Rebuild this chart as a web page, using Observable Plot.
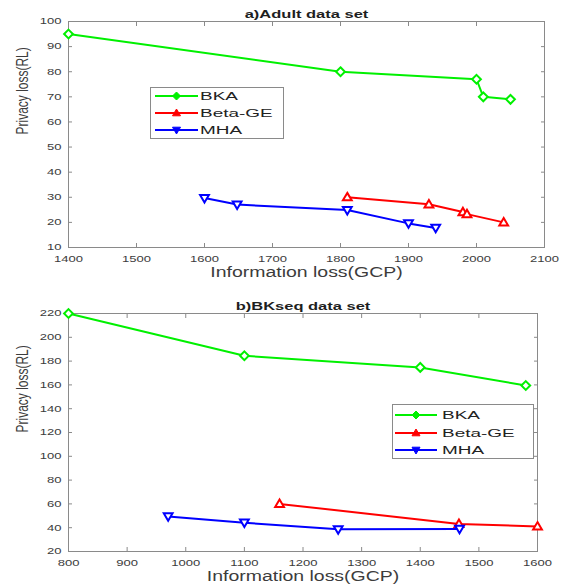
<!DOCTYPE html>
<html><head><meta charset="utf-8">
<script src="https://cdn.jsdelivr.net/npm/d3@7"></script>
<script src="https://cdn.jsdelivr.net/npm/@observablehq/plot@0.6"></script>
<style>
body{margin:0;background:#fff;}
#wrap{position:relative;width:561px;height:586px;overflow:hidden;font-family:"Liberation Sans",Arial,sans-serif;background:#fff;}
#wrap > svg{display:block;}
.legend{position:absolute;}
</style></head><body><div id="wrap"></div>
<script>
const seriesNames = ["BKA", "Beta-GE", "MHA"];
const seriesColors = ["#00f000", "#ff0000", "#0000ff"];
const xLabel = "Information loss(GCP)";
const yLabel = "Privacy loss(RL)";

const adultTitle = "a)Adult data set";
const adultXTicks = [1400, 1500, 1600, 1700, 1800, 1900, 2000, 2100];
const adultYTicks = [10, 20, 30, 40, 50, 60, 70, 80, 90, 100];
const adultBKA_x = [1400, 1800, 2000, 2010, 2050];
const adultBKA_y = [95, 80, 77, 70, 69];
const adultBeta_x = [1810, 1930, 1980, 1986, 2040];
const adultBeta_y = [30, 27.2, 24.1, 23.3, 20];
const adultMHA_x = [1600, 1648, 1810, 1900, 1940];
const adultMHA_y = [29.7, 27.1, 24.9, 19.6, 17.8];

const bkTitle = "b)BKseq data set";
const bkXTicks = [800, 900, 1000, 1100, 1200, 1300, 1400, 1500, 1600];
const bkYTicks = [20, 40, 60, 80, 100, 120, 140, 160, 180, 200, 220];
const bkBKA_x = [800, 1100, 1400, 1580];
const bkBKA_y = [220, 184.5, 174.7, 159.5];
const bkBeta_x = [1160, 1466, 1600];
const bkBeta_y = [60, 43.2, 41];
const bkMHA_x = [970, 1100, 1260, 1467];
const bkMHA_y = [49.5, 44.2, 38.6, 39];

const symDiamond = {draw(c, size) {const r = Math.sqrt(size / Math.PI); c.moveTo(0, -r); c.lineTo(r, 0); c.lineTo(0, r); c.lineTo(-r, 0); c.closePath();}};
const symUp = {draw(c, size) {const r = Math.sqrt(size / Math.PI); c.moveTo(0, -r); c.lineTo(r, r * 0.7); c.lineTo(-r, r * 0.7); c.closePath();}};
const symDown = {draw(c, size) {const r = Math.sqrt(size / Math.PI); c.moveTo(0, r); c.lineTo(r, -r * 0.7); c.lineTo(-r, -r * 0.7); c.closePath();}};
const symbols = [symDiamond, symUp, symDown];

const FONT = '"Liberation Sans", Arial, sans-serif';
const GRID = "#8a8a8a";
const TXT = "#3c3c3c";

function stretchText(svg, title) {
  svg.querySelectorAll("text").forEach(t => {
    const g = t.parentNode;
    const lab = (g && g.getAttribute && g.getAttribute("aria-label")) || "";
    const s = t.textContent;
    let sx = 1, sy = 1;
    if (lab.includes("tick label")) sx = 1.45;
    else if (s === title) sx = 1.65;
    else if (s === xLabel) sx = 1.39;
    else if (s === yLabel) sy = 1.33;
    else return;
    let tr = t.getAttribute("transform") || "";
    const xa = t.getAttribute("x");
    if (xa !== null && !isNaN(+xa)) { tr += ` translate(${xa},0)`; t.setAttribute("x", 0); }
    t.setAttribute("transform", `${tr} scale(${sx},${sy})`);
  });
}

function makeChart(cfg) {
  const sets = [cfg.bka, cfg.beta, cfg.mha].map((p, k) => p[0].map((x, i) => ({x, y: p[1][i], series: seriesNames[k]})));
  const tickAxis = {fontSize: 9, fill: TXT, label: null, tickFormat: d => String(d)};
  const marks = [
    Plot.frame({stroke: GRID}),
    Plot.axisX(cfg.xTicks, {anchor: "bottom", tickSize: 0, tickPadding: 8, ...tickAxis}),
    Plot.axisY(cfg.yTicks, {anchor: "left", tickSize: 0, tickPadding: 7, ...tickAxis}),
    Plot.axisX(cfg.xTicks, {anchor: "bottom", tickSize: -4, tickFormat: () => "", stroke: GRID, label: null}),
    Plot.axisX(cfg.xTicks, {anchor: "top", tickSize: -4, tickFormat: () => "", stroke: GRID, label: null}),
    Plot.axisY(cfg.yTicks, {anchor: "left", tickSize: -4, tickFormat: () => "", stroke: GRID, label: null}),
    Plot.axisY(cfg.yTicks, {anchor: "right", tickSize: -4, tickFormat: () => "", stroke: GRID, label: null}),
    Plot.text([cfg.title], {text: d => d, frameAnchor: "top", lineAnchor: "middle", dy: -7, fontSize: 10, fontWeight: "bold", fill: "#1e1e1e"}),
    Plot.text([xLabel], {text: d => d, frameAnchor: "bottom", lineAnchor: "middle", dy: 25, fontSize: 14, fill: TXT}),
    Plot.text([yLabel], {text: d => d, frameAnchor: "left", lineAnchor: "middle", dx: -46, rotate: -90, fontSize: 12, fill: TXT})
  ];
  sets.forEach((d, k) => {
    marks.push(Plot.line(d, {x: "x", y: "y", stroke: seriesColors[k], strokeWidth: 2}));
  });
  sets.forEach((d, k) => {
    marks.push(Plot.dot(d, {x: "x", y: "y", symbol: symbols[k], r: 4.4, stroke: seriesColors[k], fill: "white", strokeWidth: 2}));
  });
  const svg = Plot.plot({
    width: 561, height: cfg.height,
    marginLeft: cfg.ml, marginRight: cfg.mr, marginTop: cfg.mt, marginBottom: cfg.mb,
    style: {fontFamily: FONT, background: "transparent"},
    x: {domain: cfg.xDomain, label: null},
    y: {domain: cfg.yDomain, label: null},
    marks
  });
  stretchText(svg, cfg.title);
  return svg;
}

function makeLegend(parent, box) {
  const svg = d3.select(parent).append("svg").attr("class", "legend")
    .attr("width", box.w + 2).attr("height", box.h + 2)
    .style("left", (box.left - 1) + "px").style("top", (box.top - 1) + "px");
  svg.append("rect").attr("x", 1.5).attr("y", 1.5).attr("width", box.w - 1).attr("height", box.h - 1)
    .attr("fill", "white").attr("stroke", "#8a8a8a");
  seriesNames.forEach((name, k) => {
    const y = box.rows[k] + 1;
    svg.append("line").attr("x1", box.l0 + 1).attr("x2", box.l1 + 1).attr("y1", y).attr("y2", y)
      .attr("stroke", seriesColors[k]).attr("stroke-width", 2);
    svg.append("path").attr("d", d3.symbol(symbols[k], Math.PI * 16)())
      .attr("transform", `translate(${(box.l0 + box.l1) / 2 + 1},${y})`).attr("fill", seriesColors[k]).attr("stroke", seriesColors[k]);
    svg.append("text").text(name).attr("transform", `translate(${box.tx + 1},${y}) scale(1.65,1)`)
      .attr("dy", "0.36em").attr("font-size", 11.5).attr("fill", "#222").attr("font-family", FONT);
  });
}

const wrap = document.getElementById("wrap");
wrap.appendChild(makeChart({
  title: adultTitle, height: 290, ml: 68, mr: 17, mt: 21, mb: 43,
  xDomain: [1400, 2100], yDomain: [10, 100], xTicks: adultXTicks, yTicks: adultYTicks,
  bka: [adultBKA_x, adultBKA_y], beta: [adultBeta_x, adultBeta_y], mha: [adultMHA_x, adultMHA_y]
}));
wrap.appendChild(makeChart({
  title: bkTitle, height: 296, ml: 68, mr: 24, mt: 23, mb: 35,
  xDomain: [800, 1600], yDomain: [20, 220], xTicks: bkXTicks, yTicks: bkYTicks,
  bka: [bkBKA_x, bkBKA_y], beta: [bkBeta_x, bkBeta_y], mha: [bkMHA_x, bkMHA_y]
}));
makeLegend(wrap, {left: 150, top: 87, w: 134, h: 52, rows: [9, 26, 43], l0: 5, l1: 48, tx: 50});
makeLegend(wrap, {left: 392, top: 404, w: 142, h: 55, rows: [11, 29, 46], l0: 3, l1: 45, tx: 50});
</script></body></html>
